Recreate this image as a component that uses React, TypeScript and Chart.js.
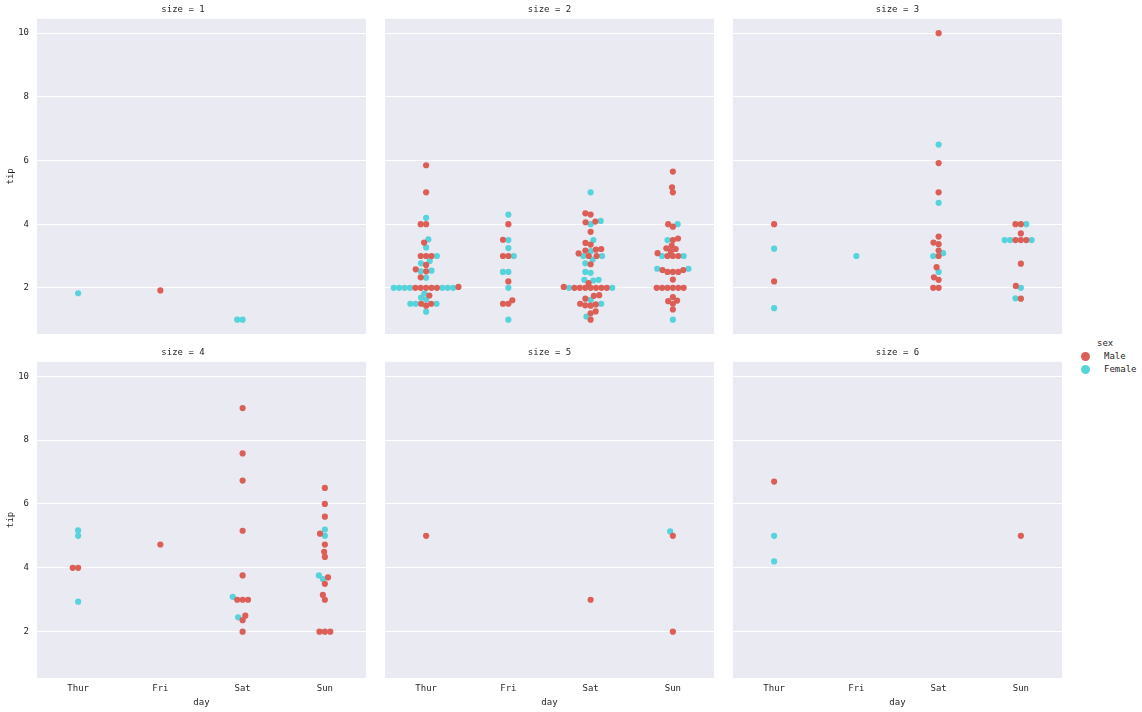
import React, { useEffect, useRef } from "react";
import { Chart, registerables } from "chart.js";

Chart.register(...registerables);

// ---------------- data ----------------
const DAYS = ["Thur", "Fri", "Sat", "Sun"];
const SIZES = [1, 2, 3, 4, 5, 6];
const Y_TICKS = [2, 4, 6, 8, 10];

// tips per day [Thur, Fri, Sat, Sun]
const size1Male = [[], [1.92], [], []];
const size1Female = [[1.83], [], [1.0, 1.0], []];

const size2Male = [
  [5.85, 5.0, 4.0, 4.0, 3.42, 3.0, 3.0, 3.0, 2.72, 2.58, 2.52, 2.33, 2.0, 2.0, 2.0, 2.0, 2.0, 2.03, 1.76, 1.5, 1.5, 1.44],
  [4.0, 3.51, 3.0, 3.0, 2.2, 1.61, 1.5, 1.5],
  [4.34, 4.3, 4.08, 4.06, 3.76, 3.41, 3.36, 3.22, 3.2, 3.17, 3.08, 3.0, 3.0, 2.74, 2.15, 2.0, 2.0, 2.0, 2.0, 2.0, 2.0, 2.0, 2.03, 1.77, 1.75, 1.66, 1.5, 1.48, 1.45, 1.44, 1.26, 1.2, 1.0],
  [5.65, 5.16, 5.0, 4.0, 3.92, 3.55, 3.5, 3.33, 3.24, 3.22, 3.15, 3.09, 3.0, 3.0, 3.0, 2.56, 2.56, 2.5, 2.5, 2.5, 2.26, 2.0, 2.0, 2.0, 2.0, 2.0, 2.0, 1.71, 1.6, 1.58, 1.5, 1.32],
];
const size2Female = [
  [4.2, 3.52, 3.27, 3.0, 2.84, 2.77, 2.54, 2.52, 2.32, 2.0, 2.0, 2.0, 2.0, 2.0, 2.0, 2.0, 1.82, 1.69, 1.63, 1.5, 1.5, 1.5, 1.25],
  [4.3, 3.5, 3.25, 3.0, 2.5, 2.5, 2.0, 1.0],
  [5.0, 4.1, 4.0, 3.5, 3.15, 3.0, 3.0, 2.89, 2.77, 2.5, 2.47, 2.25, 2.25, 2.23, 2.0, 2.0, 1.62, 1.5, 1.1],
  [4.0, 3.5, 3.0, 3.0, 2.6, 2.6, 1.0],
];

const size3Male = [
  [4.0, 2.2],
  [],
  [10.0, 5.92, 5.0, 3.61, 3.42, 3.37, 3.17, 3.0, 2.65, 2.33, 2.25, 2.0, 2.0],
  [4.0, 4.0, 3.71, 3.5, 3.5, 3.5, 2.76, 2.06, 1.66],
];
const size3Female = [
  [3.23, 1.36],
  [3.0],
  [6.5, 4.67, 3.09, 3.0, 2.5],
  [4.0, 3.5, 3.5, 3.5, 2.0, 1.67],
];

const size4Male = [
  [4.0, 4.0],
  [4.73],
  [9.0, 7.58, 6.73, 5.16, 3.76, 3.0, 3.0, 3.0, 2.5, 2.36, 2.0],
  [6.5, 6.0, 5.6, 5.07, 4.73, 4.5, 4.34, 3.7, 3.5, 3.15, 3.0, 2.0, 2.0, 2.0],
];
const size4Female = [
  [5.17, 5.0, 2.94],
  [],
  [3.09, 2.45],
  [5.2, 5.0, 3.76, 3.65],
];

const size5Male = [[5.0], [], [3.0], [5.0, 2.0]];
const size5Female = [[], [], [], [5.14]];

const size6Male = [[6.7], [], [], [5.0]];
const size6Female = [[5.0, 4.2], [], [], []];

const MALE_BY_SIZE = [size1Male, size2Male, size3Male, size4Male, size5Male, size6Male];
const FEMALE_BY_SIZE = [size1Female, size2Female, size3Female, size4Female, size5Female, size6Female];

// ---------------- style ----------------
const MALE_COLOR = "#db5f57";
const FEMALE_COLOR = "#57d3db";
const BG = "#eaeaf2";
const TEXT = "#262626";
const FONT_FAMILY = "'DejaVu Sans Mono', monospace";
const FONT_SIZE = 9;

const PLOT_W = 329;
const Y_MIN = 0.55;
const Y_MAX = 10.45;

// seaborn-like beeswarm, in pixel space; returns x offsets (px)
function beeswarm(ysPx: number[], r: number): number[] {
  const order = ysPx.map((_, i) => i).sort((a, b) => ysPx[a] - ysPx[b] || a - b);
  const placed: { x: number; y: number }[] = [];
  const xs = new Array(ysPx.length).fill(0);
  for (const idx of order) {
    const y = ysPx[idx];
    const neighbors = placed.filter((p) => Math.abs(p.y - y) < 2 * r);
    const cands: number[] = [0];
    let leftFirst = true;
    for (const nb of neighbors) {
      const dy = y - nb.y;
      const dx = Math.sqrt(Math.max(4 * r * r - dy * dy, 0)) * 1.05;
      const cl = nb.x - dx;
      const cr = nb.x + dx;
      if (leftFirst) cands.push(cl, cr);
      else cands.push(cr, cl);
      leftFirst = !leftFirst;
    }
    const sorted = cands
      .map((c, i) => ({ c, i }))
      .sort((a, b) => Math.abs(a.c) - Math.abs(b.c) || a.i - b.i);
    let chosen = 0;
    for (const { c } of sorted) {
      const ok = neighbors.every(
        (nb) => (c - nb.x) ** 2 + (y - nb.y) ** 2 >= 4 * r * r - 1e-6
      );
      if (ok) {
        chosen = c;
        break;
      }
    }
    placed.push({ x: chosen, y });
    xs[idx] = chosen;
  }
  return xs;
}

const bgPlugin = {
  id: "panelBg",
  beforeDraw(chart: any) {
    const { ctx, chartArea } = chart;
    if (!chartArea) return;
    ctx.save();
    ctx.fillStyle = BG;
    ctx.fillRect(chartArea.left, chartArea.top, chartArea.right - chartArea.left, chartArea.bottom - chartArea.top);
    ctx.restore();
  },
};

function zeroPadding(s: any) {
  s.paddingTop = 0;
  s.paddingBottom = 0;
  s.paddingLeft = 0;
  s.paddingRight = 0;
}

function Panel({ index }: { index: number }) {
  const ref = useRef<HTMLCanvasElement>(null);
  const col = index % 3;
  const row = Math.floor(index / 3);
  const isLeft = col === 0;
  const isBottom = row === 1;
  const plotLeft = [37, 385, 733][col];
  const plotTop = row === 0 ? 20 : 363;
  const plotH = row === 0 ? 314 : 315;
  const yAxisW = isLeft ? 37 : 0;
  const titleH = 20;
  const xAxisH = isBottom ? 34 : 0;
  const left = plotLeft - yAxisW;
  const top = plotTop - titleH;
  const width = yAxisW + PLOT_W;
  const height = titleH + plotH + xAxisH;

  useEffect(() => {
    if (!ref.current) return;
    const pxPerY = plotH / (Y_MAX - Y_MIN);
    const pxPerX = PLOT_W / 4;
    const r = 2.57;
    const male: { x: number; y: number }[] = [];
    const female: { x: number; y: number }[] = [];
    const males = MALE_BY_SIZE[index];
    const females = FEMALE_BY_SIZE[index];
    DAYS.forEach((_, d) => {
      const m = males[d];
      const f = females[d];
      const all = [...m, ...f];
      const offs = beeswarm(all.map((v) => v * pxPerY), r);
      all.forEach((v, i) => {
        const pt = { x: d + offs[i] / pxPerX, y: v };
        if (i < m.length) male.push(pt);
        else female.push(pt);
      });
    });

    const font = { family: FONT_FAMILY, size: FONT_SIZE, weight: "normal" as const };
    const chart = new Chart(ref.current, {
      type: "scatter",
      data: {
        datasets: [
          {
            label: "Male",
            data: male,
            backgroundColor: MALE_COLOR,
            borderColor: MALE_COLOR,
            borderWidth: 0,
            pointRadius: 3.1,
          },
          {
            label: "Female",
            data: female,
            backgroundColor: FEMALE_COLOR,
            borderColor: FEMALE_COLOR,
            borderWidth: 0,
            pointRadius: 3.1,
          },
        ],
      },
      options: {
        animation: false,
        responsive: false,
        devicePixelRatio: 1,
        layout: { padding: 0, autoPadding: false },
        plugins: {
          legend: { display: false },
          tooltip: { enabled: false },
          title: {
            display: true,
            text: `size = ${SIZES[index]}`,
            font,
            color: TEXT,
            padding: { top: 4, bottom: 4 },
          },
        },
        scales: {
          x: {
            type: "linear",
            min: -0.5,
            max: 3.5,
            grid: { display: false, drawTicks: false },
            border: { display: false },
            afterBuildTicks: (s: any) => {
              s.ticks = DAYS.map((_, i) => ({ value: i }));
            },
            ticks: {
              display: isBottom,
              autoSkip: false,
              maxRotation: 0,
              padding: 5,
              font,
              color: TEXT,
              callback: (v: any) => DAYS[Number(v)] ?? "",
            },
            title: {
              display: isBottom,
              text: "day",
              font,
              color: TEXT,
              padding: { top: 0, bottom: 4 },
            },
            afterFit: (s: any) => {
              s.height = xAxisH;
              zeroPadding(s);
            },
          },
          y: {
            type: "linear",
            min: Y_MIN,
            max: Y_MAX,
            grid: { color: "#ffffff", lineWidth: 1, drawTicks: false },
            border: { display: false },
            afterBuildTicks: (s: any) => {
              s.ticks = Y_TICKS.map((v) => ({ value: v }));
            },
            ticks: {
              display: isLeft,
              padding: 8,
              font,
              color: TEXT,
            },
            title: {
              display: isLeft,
              text: "tip",
              font,
              color: TEXT,
              padding: { top: 5, bottom: 0 },
            },
            afterFit: (s: any) => {
              s.width = yAxisW;
              zeroPadding(s);
            },
          },
        },
      } as any,
      plugins: [bgPlugin],
    });
    return () => chart.destroy();
  }, [index]);

  return (
    <canvas
      ref={ref}
      width={width}
      height={height}
      style={{ position: "absolute", left, top, width, height }}
    />
  );
}

export default function App() {
  const textStyle: React.CSSProperties = {
    position: "absolute",
    fontFamily: FONT_FAMILY,
    fontSize: FONT_SIZE,
    color: TEXT,
    lineHeight: "12px",
    whiteSpace: "nowrap",
  };
  return (
    <div
      style={{
        position: "fixed",
        left: 0,
        top: 0,
        width: 1142,
        height: 712,
        background: "#ffffff",
        overflow: "hidden",
      }}
    >
      {SIZES.map((_, i) => (
        <Panel key={i} index={i} />
      ))}
      <div style={{ ...textStyle, left: 1097, top: 337 }}>sex</div>
      <div
        style={{
          position: "absolute",
          left: 1080.5,
          top: 351.5,
          width: 9,
          height: 9,
          borderRadius: "50%",
          background: MALE_COLOR,
        }}
      />
      <div style={{ ...textStyle, left: 1104, top: 350 }}>Male</div>
      <div
        style={{
          position: "absolute",
          left: 1080.5,
          top: 364.5,
          width: 9,
          height: 9,
          borderRadius: "50%",
          background: FEMALE_COLOR,
        }}
      />
      <div style={{ ...textStyle, left: 1104, top: 363 }}>Female</div>
    </div>
  );
}
